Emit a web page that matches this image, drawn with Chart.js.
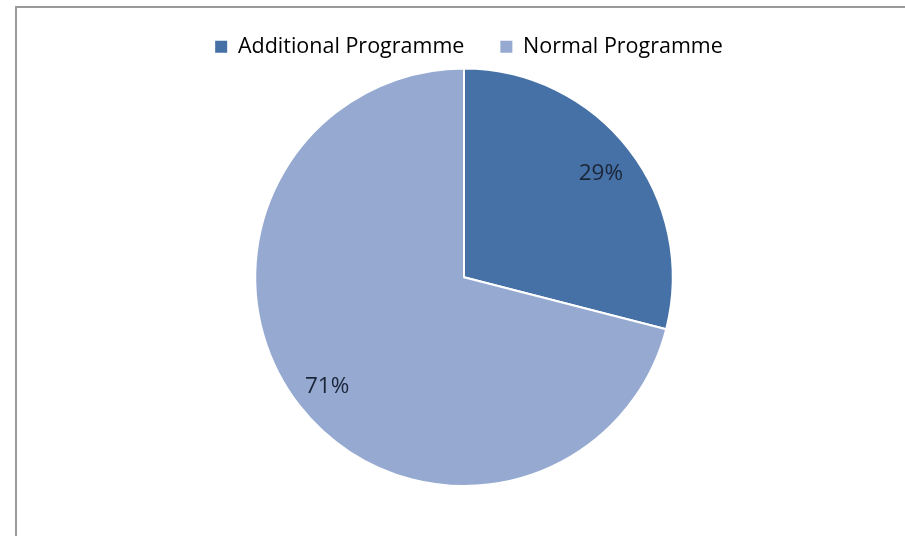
<!DOCTYPE html>
<html>
<head>
<meta charset="utf-8">
<script src="https://cdn.jsdelivr.net/npm/chart.js@4/dist/chart.umd.min.js"></script>
<style>
  html, body { margin: 0; padding: 0; background: #fff; overflow: hidden; }
  #frame {
    position: absolute; left: 15px; top: 6px; width: 1000px; height: 700px;
    border-left: 2px solid #9a9a9a; border-top: 2px solid #9a9a9a;
    box-sizing: border-box;
  }
  #wrap { position: absolute; left: 0; top: 0; width: 905px; height: 536px; }
</style>
</head>
<body>
<div id="frame"></div>
<div id="wrap"><canvas id="chart" width="905" height="536"></canvas></div>
<script>
// Share of programmes, in percent
const categories = ['Additional Programme', 'Normal Programme'];
const shares = [29, 71];
const sliceColors = ['#4671a6', '#95a9d1'];

// Percent labels placed inside each slice along its middle angle
const sliceLabels = {
  id: 'sliceLabels',
  afterDatasetsDraw(chart) {
    const ctx = chart.ctx;
    const meta = chart.getDatasetMeta(0);
    ctx.save();
    ctx.font = '22.5px "Open Sans", sans-serif';
    ctx.fillStyle = '#1b2538';
    ctx.textAlign = 'center';
    ctx.textBaseline = 'middle';
    meta.data.forEach((arc, i) => {
      const p = arc.getProps(['x', 'y', 'startAngle', 'endAngle', 'outerRadius'], true);
      const mid = (p.startAngle + p.endAngle) / 2;
      const r = p.outerRadius * 0.83;
      ctx.fillText(shares[i] + '%', p.x + Math.cos(mid) * r, p.y + Math.sin(mid) * r + 3);
    });
    ctx.restore();
  }
};

// Nudge the legend row a little to the right of the pie's centre line
const legendNudge = {
  id: 'legendNudge',
  afterLayout(chart) {
    if (chart.legend) {
      chart.legend.left += 5;
      chart.legend.right += 5;
    }
  }
};

new Chart(document.getElementById('chart'), {
  type: 'pie',
  data: {
    labels: categories,
    datasets: [{
      data: shares,
      backgroundColor: sliceColors,
      borderColor: '#ffffff',
      borderWidth: 2,
      hoverOffset: 0
    }]
  },
  options: {
    responsive: false,
    animation: false,
    layout: { padding: { left: 23, right: 0, top: 0, bottom: 49 } },
    plugins: {
      tooltip: { enabled: false },
      legend: {
        position: 'top',
        labels: {
          font: { family: '"Open Sans", sans-serif', size: 21.5 },
          color: '#1a1a1a',
          boxWidth: 12,
          boxHeight: 12,
          padding: 36,
          generateLabels(chart) {
            return categories.map((name, i) => ({
              text: name,
              fillStyle: sliceColors[i],
              strokeStyle: sliceColors[i],
              lineWidth: 0,
              hidden: false,
              index: i
            }));
          }
        }
      }
    }
  },
  plugins: [sliceLabels, legendNudge]
});
</script>
</body>
</html>
